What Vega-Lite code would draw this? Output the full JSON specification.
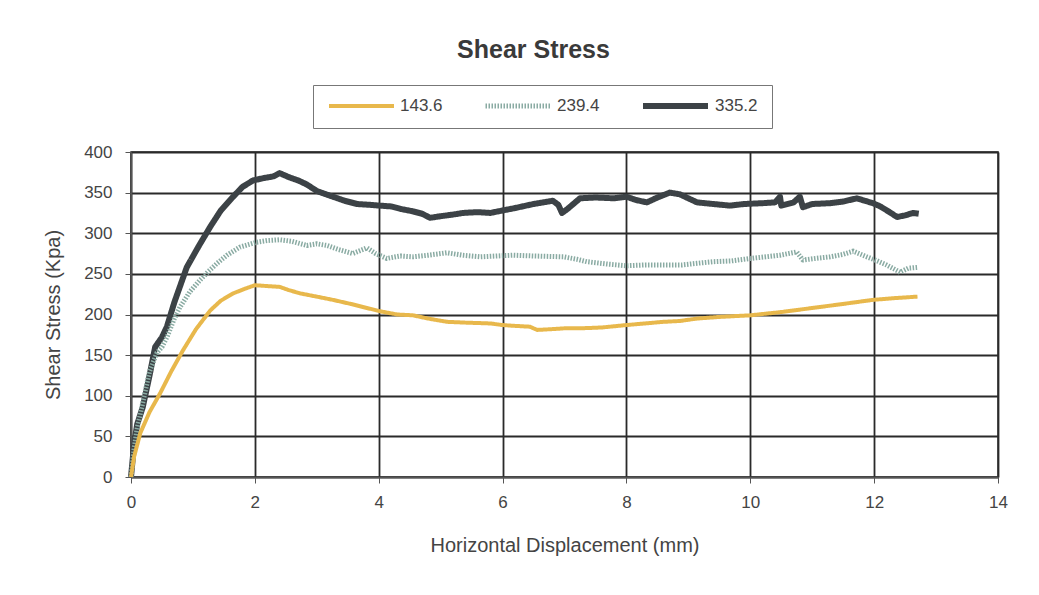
{
  "$schema": "https://vega.github.io/schema/vega-lite/v6.json",
  "autosize": {"type": "none"},
  "width": 867,
  "height": 325,
  "padding": {"left": 131, "top": 152, "right": 41, "bottom": 118},
  "background": "white",
  "title": {"text": "Shear Stress", "fontSize": 25, "fontWeight": "bold", "font": "Liberation Sans", "color": "#3a3a3a", "anchor": "middle", "dx": -31, "offset": 22},
  "config": {
    "font": "Liberation Sans",
    "view": {"stroke": "#222222", "strokeWidth": 1.5},
    "axis": {"labelFont": "Liberation Sans", "titleFont": "Liberation Sans", "labelColor": "#444444", "titleColor": "#444444", "labelFontSize": 17, "titleFontSize": 20, "titleFontWeight": "normal", "gridColor": "#2a2a2a", "gridWidth": 1.8, "gridOpacity": 1, "domainColor": "#555555", "tickColor": "#555555", "tickSize": 6, "domainWidth": 1.5, "labelFlush": false}
  },
  "data": {"values": [
    {"x":0,"y":0,"s":"335.2"},{"x":0.05,"y":40,"s":"335.2"},{"x":0.1,"y":65,"s":"335.2"},{"x":0.19,"y":86,"s":"335.2"},{"x":0.3,"y":125,"s":"335.2"},{"x":0.39,"y":160,"s":"335.2"},{"x":0.5,"y":172,"s":"335.2"},{"x":0.58,"y":185,"s":"335.2"},{"x":0.7,"y":215,"s":"335.2"},{"x":0.9,"y":258,"s":"335.2"},{"x":1.1,"y":285,"s":"335.2"},{"x":1.28,"y":308,"s":"335.2"},{"x":1.45,"y":328,"s":"335.2"},{"x":1.65,"y":345,"s":"335.2"},{"x":1.8,"y":357,"s":"335.2"},{"x":1.97,"y":365,"s":"335.2"},{"x":2.15,"y":368,"s":"335.2"},{"x":2.3,"y":370,"s":"335.2"},{"x":2.4,"y":374,"s":"335.2"},{"x":2.55,"y":369,"s":"335.2"},{"x":2.7,"y":365,"s":"335.2"},{"x":2.84,"y":360,"s":"335.2"},{"x":3.0,"y":352,"s":"335.2"},{"x":3.26,"y":345,"s":"335.2"},{"x":3.45,"y":340,"s":"335.2"},{"x":3.65,"y":336,"s":"335.2"},{"x":3.85,"y":335,"s":"335.2"},{"x":4.02,"y":334,"s":"335.2"},{"x":4.2,"y":333,"s":"335.2"},{"x":4.35,"y":330,"s":"335.2"},{"x":4.55,"y":327,"s":"335.2"},{"x":4.7,"y":324,"s":"335.2"},{"x":4.83,"y":319,"s":"335.2"},{"x":5.0,"y":321,"s":"335.2"},{"x":5.2,"y":323,"s":"335.2"},{"x":5.36,"y":325,"s":"335.2"},{"x":5.6,"y":326,"s":"335.2"},{"x":5.8,"y":325,"s":"335.2"},{"x":6.0,"y":328,"s":"335.2"},{"x":6.2,"y":331,"s":"335.2"},{"x":6.5,"y":336,"s":"335.2"},{"x":6.81,"y":340,"s":"335.2"},{"x":6.9,"y":335,"s":"335.2"},{"x":6.96,"y":325,"s":"335.2"},{"x":7.05,"y":330,"s":"335.2"},{"x":7.25,"y":343,"s":"335.2"},{"x":7.5,"y":344,"s":"335.2"},{"x":7.8,"y":343,"s":"335.2"},{"x":8.0,"y":345,"s":"335.2"},{"x":8.15,"y":341,"s":"335.2"},{"x":8.33,"y":338,"s":"335.2"},{"x":8.5,"y":344,"s":"335.2"},{"x":8.7,"y":350,"s":"335.2"},{"x":8.86,"y":348,"s":"335.2"},{"x":9.0,"y":343,"s":"335.2"},{"x":9.14,"y":338,"s":"335.2"},{"x":9.4,"y":336,"s":"335.2"},{"x":9.67,"y":334,"s":"335.2"},{"x":9.9,"y":336,"s":"335.2"},{"x":10.2,"y":337,"s":"335.2"},{"x":10.4,"y":338,"s":"335.2"},{"x":10.48,"y":345,"s":"335.2"},{"x":10.5,"y":334,"s":"335.2"},{"x":10.7,"y":338,"s":"335.2"},{"x":10.8,"y":345,"s":"335.2"},{"x":10.85,"y":332,"s":"335.2"},{"x":11.0,"y":336,"s":"335.2"},{"x":11.29,"y":337,"s":"335.2"},{"x":11.5,"y":339,"s":"335.2"},{"x":11.72,"y":343,"s":"335.2"},{"x":11.85,"y":340,"s":"335.2"},{"x":11.98,"y":337,"s":"335.2"},{"x":12.1,"y":333,"s":"335.2"},{"x":12.25,"y":326,"s":"335.2"},{"x":12.37,"y":320,"s":"335.2"},{"x":12.5,"y":322,"s":"335.2"},{"x":12.63,"y":325,"s":"335.2"},{"x":12.72,"y":324,"s":"335.2"},
    {"x":0,"y":0,"s":"239.4"},{"x":0.05,"y":35,"s":"239.4"},{"x":0.1,"y":60,"s":"239.4"},{"x":0.2,"y":95,"s":"239.4"},{"x":0.3,"y":130,"s":"239.4"},{"x":0.42,"y":153,"s":"239.4"},{"x":0.5,"y":160,"s":"239.4"},{"x":0.58,"y":172,"s":"239.4"},{"x":0.7,"y":195,"s":"239.4"},{"x":0.79,"y":209,"s":"239.4"},{"x":0.95,"y":228,"s":"239.4"},{"x":1.11,"y":242,"s":"239.4"},{"x":1.25,"y":253,"s":"239.4"},{"x":1.39,"y":263,"s":"239.4"},{"x":1.55,"y":273,"s":"239.4"},{"x":1.76,"y":283,"s":"239.4"},{"x":2.03,"y":289,"s":"239.4"},{"x":2.2,"y":291,"s":"239.4"},{"x":2.4,"y":292,"s":"239.4"},{"x":2.6,"y":290,"s":"239.4"},{"x":2.84,"y":285,"s":"239.4"},{"x":3.0,"y":287,"s":"239.4"},{"x":3.16,"y":285,"s":"239.4"},{"x":3.35,"y":280,"s":"239.4"},{"x":3.58,"y":275,"s":"239.4"},{"x":3.81,"y":282,"s":"239.4"},{"x":3.95,"y":275,"s":"239.4"},{"x":4.13,"y":269,"s":"239.4"},{"x":4.35,"y":272,"s":"239.4"},{"x":4.55,"y":271,"s":"239.4"},{"x":4.8,"y":273,"s":"239.4"},{"x":5.1,"y":276,"s":"239.4"},{"x":5.35,"y":273,"s":"239.4"},{"x":5.64,"y":271,"s":"239.4"},{"x":5.9,"y":272,"s":"239.4"},{"x":6.17,"y":273,"s":"239.4"},{"x":6.5,"y":272,"s":"239.4"},{"x":6.98,"y":271,"s":"239.4"},{"x":7.2,"y":268,"s":"239.4"},{"x":7.36,"y":265,"s":"239.4"},{"x":7.7,"y":262,"s":"239.4"},{"x":8.0,"y":260,"s":"239.4"},{"x":8.3,"y":261,"s":"239.4"},{"x":8.6,"y":261,"s":"239.4"},{"x":8.9,"y":261,"s":"239.4"},{"x":9.14,"y":263,"s":"239.4"},{"x":9.4,"y":265,"s":"239.4"},{"x":9.7,"y":266,"s":"239.4"},{"x":10.0,"y":269,"s":"239.4"},{"x":10.25,"y":271,"s":"239.4"},{"x":10.48,"y":273,"s":"239.4"},{"x":10.75,"y":277,"s":"239.4"},{"x":10.85,"y":267,"s":"239.4"},{"x":11.05,"y":269,"s":"239.4"},{"x":11.29,"y":271,"s":"239.4"},{"x":11.5,"y":274,"s":"239.4"},{"x":11.66,"y":278,"s":"239.4"},{"x":11.88,"y":271,"s":"239.4"},{"x":12.05,"y":266,"s":"239.4"},{"x":12.2,"y":261,"s":"239.4"},{"x":12.42,"y":252,"s":"239.4"},{"x":12.55,"y":257,"s":"239.4"},{"x":12.7,"y":258,"s":"239.4"},
    {"x":0,"y":0,"s":"143.6"},{"x":0.05,"y":25,"s":"143.6"},{"x":0.15,"y":54,"s":"143.6"},{"x":0.3,"y":80,"s":"143.6"},{"x":0.47,"y":103,"s":"143.6"},{"x":0.65,"y":130,"s":"143.6"},{"x":0.84,"y":156,"s":"143.6"},{"x":1.05,"y":182,"s":"143.6"},{"x":1.28,"y":205,"s":"143.6"},{"x":1.45,"y":217,"s":"143.6"},{"x":1.65,"y":226,"s":"143.6"},{"x":1.85,"y":232,"s":"143.6"},{"x":2.0,"y":236,"s":"143.6"},{"x":2.2,"y":235,"s":"143.6"},{"x":2.4,"y":234,"s":"143.6"},{"x":2.55,"y":230,"s":"143.6"},{"x":2.73,"y":226,"s":"143.6"},{"x":3.0,"y":222,"s":"143.6"},{"x":3.26,"y":218,"s":"143.6"},{"x":3.55,"y":213,"s":"143.6"},{"x":3.81,"y":208,"s":"143.6"},{"x":4.02,"y":204,"s":"143.6"},{"x":4.3,"y":200,"s":"143.6"},{"x":4.55,"y":199,"s":"143.6"},{"x":4.8,"y":195,"s":"143.6"},{"x":5.1,"y":191,"s":"143.6"},{"x":5.4,"y":190,"s":"143.6"},{"x":5.8,"y":189,"s":"143.6"},{"x":6.0,"y":187,"s":"143.6"},{"x":6.2,"y":186,"s":"143.6"},{"x":6.44,"y":185,"s":"143.6"},{"x":6.56,"y":181,"s":"143.6"},{"x":6.8,"y":182,"s":"143.6"},{"x":7.0,"y":183,"s":"143.6"},{"x":7.25,"y":183,"s":"143.6"},{"x":7.6,"y":184,"s":"143.6"},{"x":8.0,"y":187,"s":"143.6"},{"x":8.3,"y":189,"s":"143.6"},{"x":8.6,"y":191,"s":"143.6"},{"x":8.86,"y":192,"s":"143.6"},{"x":9.14,"y":195,"s":"143.6"},{"x":9.5,"y":197,"s":"143.6"},{"x":10.0,"y":199,"s":"143.6"},{"x":10.5,"y":203,"s":"143.6"},{"x":11.0,"y":208,"s":"143.6"},{"x":11.5,"y":213,"s":"143.6"},{"x":11.98,"y":218,"s":"143.6"},{"x":12.3,"y":220,"s":"143.6"},{"x":12.7,"y":222,"s":"143.6"}
  ]},
  "mark": {"type": "line", "strokeJoin": "round", "strokeCap": "butt"},
  "encoding": {
    "x": {"field": "x", "type": "quantitative", "scale": {"domain": [0, 14], "nice": false}, "axis": {"values": [0,2,4,6,8,10,12,14], "title": "Horizontal Displacement (mm)", "labelPadding": 11, "titlePadding": 25, "grid": true}},
    "y": {"field": "y", "type": "quantitative", "scale": {"domain": [0, 400], "nice": false}, "axis": {"values": [0,50,100,150,200,250,300,350,400], "title": "Shear Stress (Kpa)", "labelPadding": 13, "titlePadding": 20, "grid": true}},
    "color": {"field": "s", "type": "nominal", "scale": {"domain": ["143.6","239.4","335.2"], "range": ["#e8b84c","#8aaba3","#3c4246"]},
      "legend": {"title": null, "orient": "none", "legendX": 182, "legendY": -67, "direction": "horizontal", "strokeColor": "#777777", "padding": 14, "symbolType": "stroke", "symbolSize": 4225, "symbolStrokeWidth": 4, "clipHeight": 14, "labelFontSize": 17, "labelColor": "#444444", "labelFont": "Liberation Sans", "columnPadding": 40, "labelOffset": 4}},
    "strokeDash": {"field": "s", "type": "nominal", "scale": {"domain": ["143.6","239.4","335.2"], "range": [[1,0],[1.5,1.5],[1,0]]}, "legend": null},
    "strokeWidth": {"field": "s", "type": "nominal", "scale": {"domain": ["143.6","239.4","335.2"], "range": [4,6,6]}, "legend": null},
    "order": {"field": "x", "type": "quantitative"}
  }
}
